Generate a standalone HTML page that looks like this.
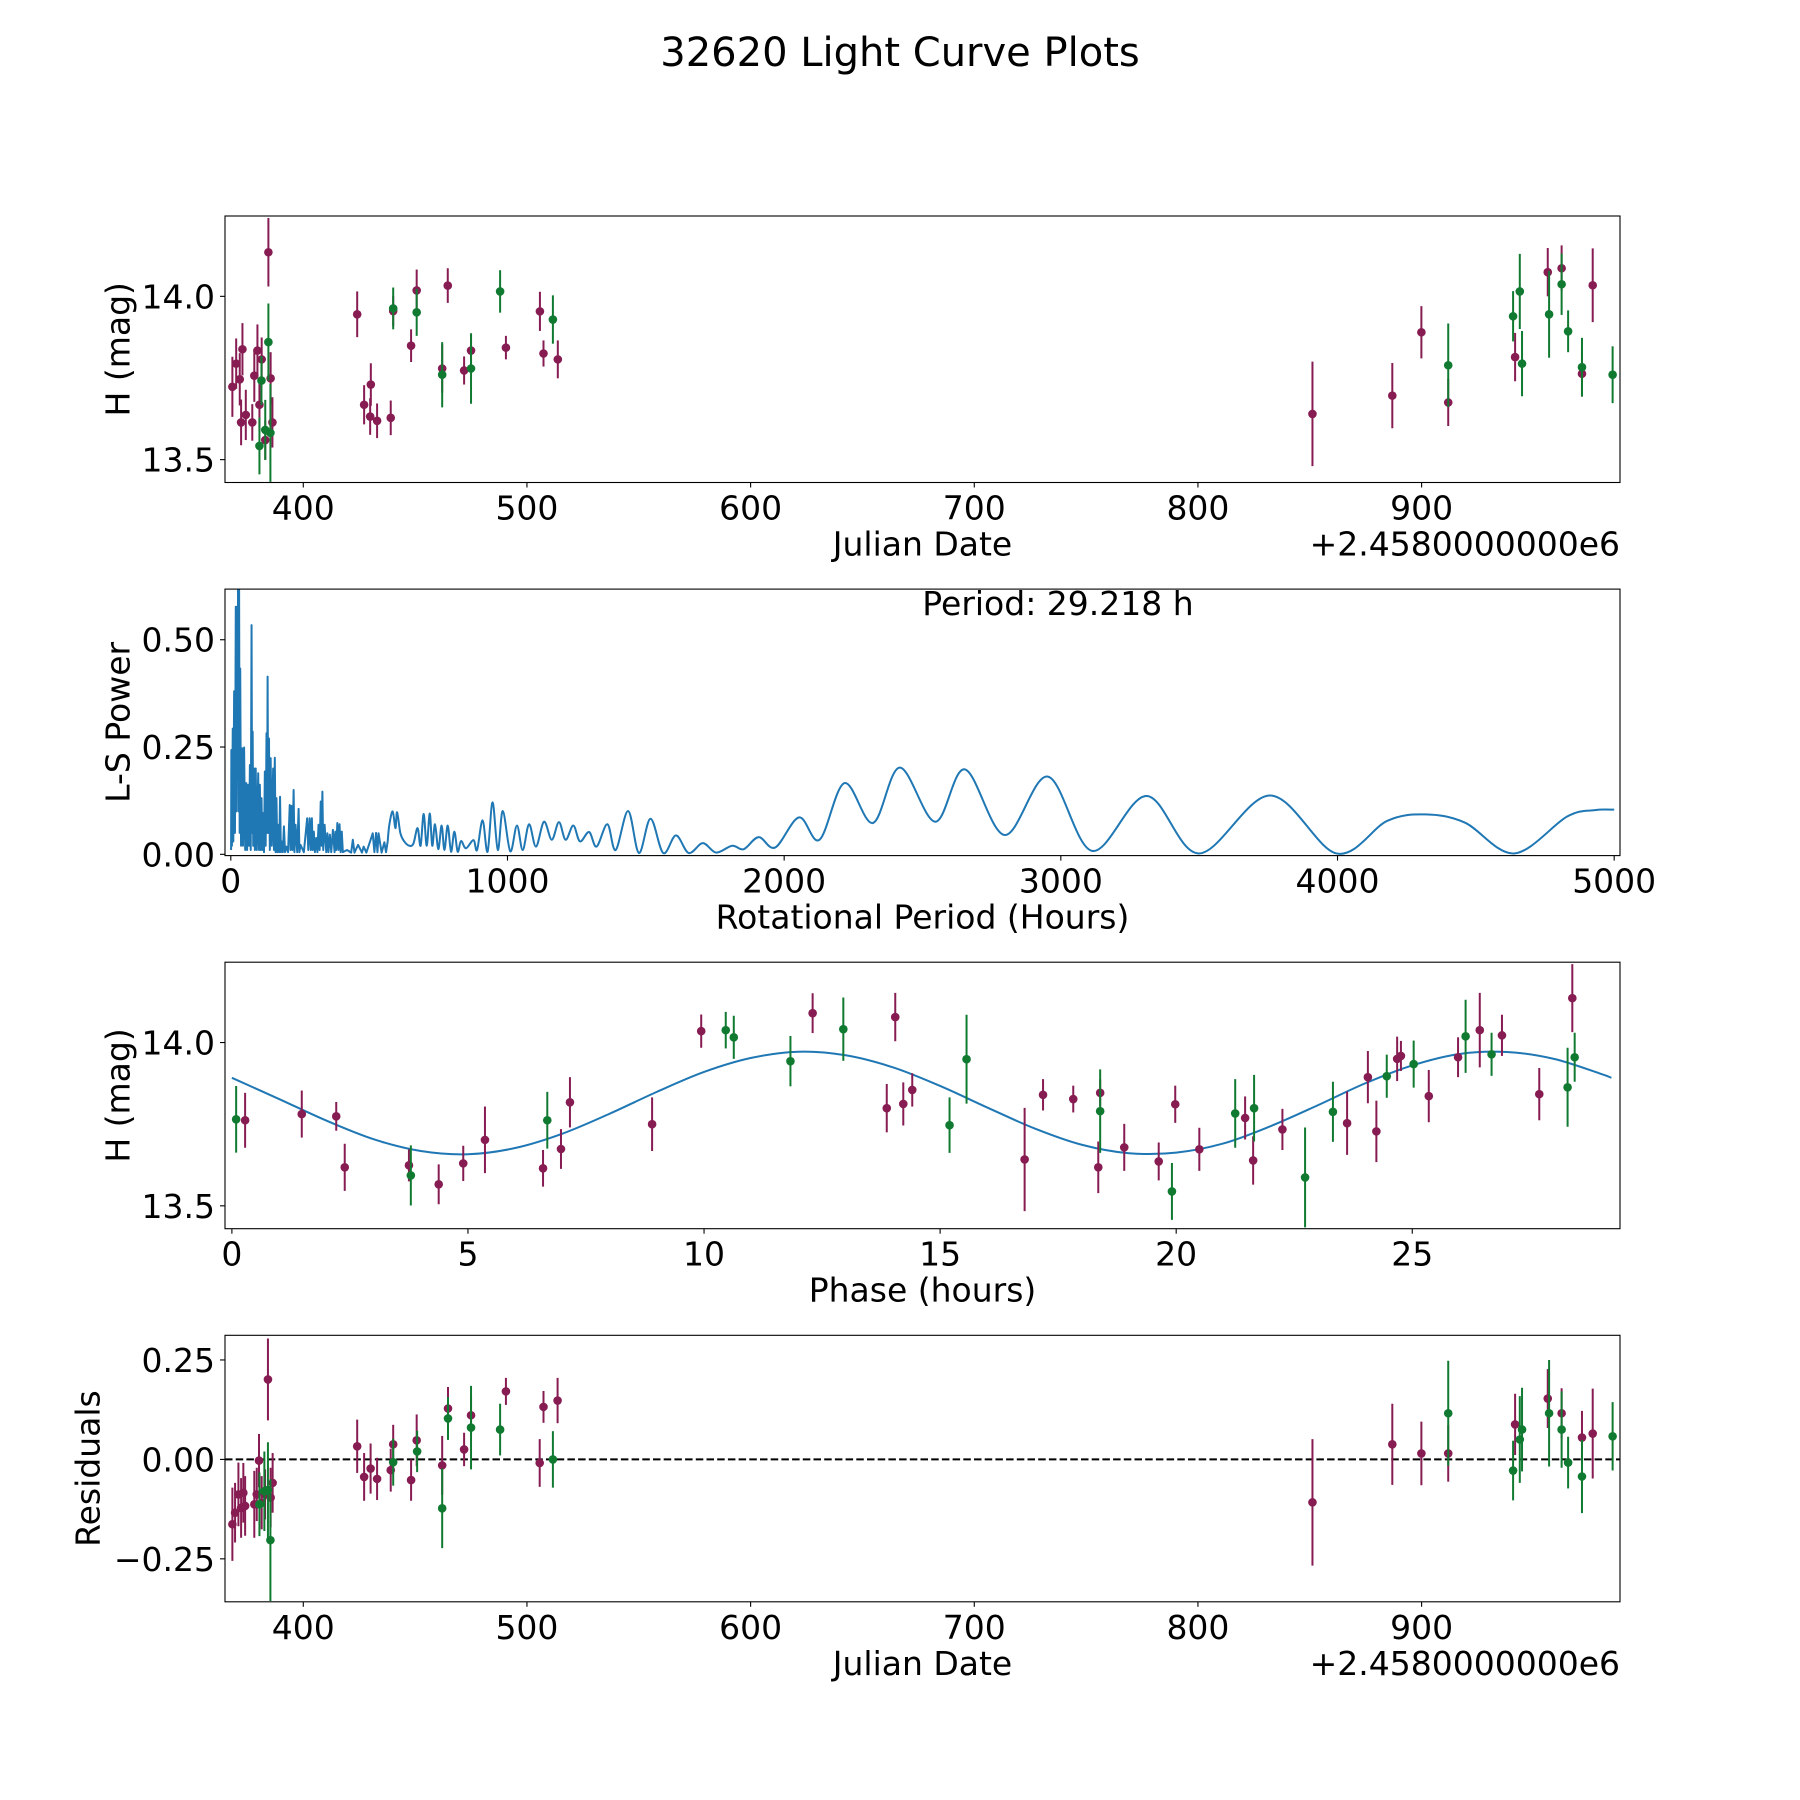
<!DOCTYPE html>
<html>
<head>
<meta charset="utf-8">
<style>
  html,body{margin:0;padding:0;background:#fff;}
  svg{display:block;font-family:"DejaVu Sans","Liberation Sans",sans-serif;}
  .tick{font-size:33px;fill:#000;}
  .lab{font-size:33px;fill:#000;}
</style>
</head>
<body>
<svg id="fig" width="1800" height="1800" viewBox="0 0 1800 1800" xmlns="http://www.w3.org/2000/svg">
  <rect x="0" y="0" width="1800" height="1800" fill="#fff"/>
  <text x="900" y="66" text-anchor="middle" style="font-size:40px">32620 Light Curve Plots</text>
</svg>
<script>
// ---------- Panel 1: light curve vs Julian Date ----------
const lcMagDate = [368.3,370.0,371.6,372.8,372.2,374.3,377.2,378.1,379.5,381.4,380.4,383.0,384.4,385.4,386.2,424.1,427.2,430.2,429.9,433.0,439.1,440.2,448.2,450.7,462.1,464.6,471.9,475.0,490.6,505.8,507.4,513.8,851.2,886.9,899.9,911.9,941.8,956.4,962.6,971.7,976.5];
const lcMagH    = [13.723,13.794,13.746,13.838,13.614,13.637,13.614,13.757,13.834,13.807,13.668,13.560,14.135,13.749,13.614,13.945,13.668,13.730,13.632,13.619,13.628,13.955,13.849,14.018,13.779,14.033,13.773,13.834,13.843,13.954,13.825,13.807,13.640,13.696,13.890,13.675,13.814,14.074,14.086,13.763,14.034];
const lcMagErr  = [0.092,0.077,0.080,0.080,0.070,0.077,0.056,0.080,0.080,0.067,0.080,0.060,0.105,0.080,0.077,0.070,0.060,0.065,0.056,0.053,0.053,0.046,0.050,0.064,0.074,0.053,0.043,0.050,0.036,0.060,0.040,0.058,0.160,0.100,0.080,0.072,0.074,0.074,0.070,0.070,0.113];
const lcGrnDate = [380.4,381.3,383.0,384.4,385.3,440.2,450.7,462.1,475.0,488.0,511.6,911.9,940.9,943.9,944.9,957.0,962.6,965.5,971.7,985.4];
const lcGrnH    = [13.542,13.742,13.591,13.860,13.582,13.963,13.951,13.760,13.779,14.015,13.929,13.789,13.939,14.015,13.794,13.945,14.037,13.893,13.783,13.760];
const lcGrnErr  = [0.087,0.075,0.092,0.118,0.150,0.064,0.072,0.100,0.108,0.065,0.074,0.128,0.077,0.115,0.100,0.133,0.094,0.064,0.090,0.087];
const dateTicks = [400,500,600,700,800,900];
const magTicks  = [13.5,14.0];
const magTickLabels = ["13.5","14.0"];

// ---------- Panel 2: Lomb-Scargle periodogram ----------
const lsDensePeriod = [1,2,4,7,9,12,15,18,20,23,25,26,28,30,32,34,37,41,44,48,52,56,59,63,66,69,72,75,77,79,81,84,87,90,94,99,102,105,108,111,114,117,120,123,126,129,131,133,135,138,141,144,148,153,156,159,162,165,168,171,175,178,181,185,188,192,196,201,207,213,216,219,223,227,230,234,240,245,248,252,264,276,280,285,289,293,296,300,304,309,313,317,321,325,328,331,334,339,345,349,353,358,363,369,375,378,381,385,389,393,397,401,405,420,435,441,447,460,474,480,490,513,519,525,530,534,545,555,561,567];
const lsDensePower = [0.01,.243,.02,.293,.03,.38,.05,.577,.1,.577,.2,.616,.1,.616,.05,.433,.02,.247,.02,.249,.01,.166,.01,.162,.02,.208,.01,.534,.05,.286,.02,.2,.01,.2,.01,.189,.01,.162,.01,.131,.01,.096,.005,.193,.02,.282,.05,.414,.05,.27,.01,.224,.02,.2,.01,.225,.005,.131,.005,.069,.005,.134,.005,.03,.005,.065,.005,.018,.005,.115,.01,.113,.01,.15,.005,.069,.005,.106,.005,.022,.005,.084,.01,.084,.01,.084,.01,.053,.005,.038,.005,.069,.01,.123,.02,.146,.01,.069,.005,.049,.005,.046,.005,.057,.005,.053,.01,.073,.01,.07,.005,.053,.005,.01,.004,.034,.004,.022,.004,.018,.004,.049,.005,.05,.005,.049,.004,.028,.005,.03];
const lsSmoothPeriod = [573,585,595,601,613,627,645,660,675,686,697,708,719,728,738,750,762,772,784,796,808,820,832,850,877,890,910,928,946,965,983,1010,1034,1055,1078,1103,1132,1160,1186,1210,1238,1262,1295,1322,1361,1391,1436,1475,1517,1563,1609,1655,1706,1754,1812,1854,1908,1968,2054,2128,2218,2321,2418,2546,2653,2797,2953,3113,3310,3499,3756,3996,4180,4317,4460,4638,4830,4930,5000];
const lsSmoothPower  = [.069,.1,.061,.098,.049,.03,.02,.025,.061,.02,.094,.02,.095,.02,.07,.012,.067,.01,.067,.006,.053,.006,.031,.014,.033,.01,.079,.006,.121,.01,.101,.007,.067,.01,.07,.018,.076,.034,.075,.034,.067,.03,.052,.018,.07,.01,.101,.003,.083,.003,.044,.003,.026,.004,.02,.012,.04,.016,.086,.034,.166,.073,.202,.076,.198,.045,.181,.008,.136,.002,.137,.002,.078,.093,.074,.002,.088,.103,.104];
const periodTicks = [0,1000,2000,3000,4000,5000];
const powerTicks = [0,0.25,0.5];
const powerTickLabels = ["0.00","0.25","0.50"];

// ---------- Panel 3: phased light curve ----------
const phMagPhase = [0.28,1.48,2.21,2.39,3.75,4.38,4.90,5.36,6.59,6.97,7.16,8.90,9.94,12.30,13.87,14.05,14.22,14.41,16.79,17.18,17.82,18.39,18.35,18.90,19.63,19.98,20.49,21.46,21.63,22.25,23.62,24.06,24.24,24.68,24.76,25.35,25.97,26.43,26.90,27.69,28.39];
const phMagH     = [13.762,13.781,13.774,13.618,13.624,13.566,13.630,13.702,13.615,13.674,13.817,13.750,14.035,14.090,13.799,14.078,13.812,13.855,13.642,13.840,13.827,13.846,13.618,13.679,13.636,13.811,13.673,13.769,13.639,13.734,13.753,13.894,13.728,13.950,13.959,13.836,13.955,14.038,14.022,13.842,14.136];
const phMagErr   = [0.084,0.072,0.044,0.072,0.049,0.061,0.054,0.102,0.056,0.061,0.077,0.082,0.051,0.061,0.074,0.074,0.066,0.051,0.158,0.048,0.041,0.041,0.079,0.072,0.058,0.057,0.066,0.066,0.074,0.063,0.097,0.080,0.094,0.068,0.046,0.080,0.061,0.114,0.063,0.080,0.104];
const phGrnPhase = [0.09,3.79,6.68,10.46,10.63,11.83,12.95,15.20,15.56,18.39,19.91,21.25,21.65,22.73,23.32,24.46,25.03,26.13,26.68,28.29,28.44];
const phGrnH     = [13.765,13.593,13.762,14.038,14.016,13.943,14.041,13.747,13.949,13.790,13.544,13.783,13.799,13.587,13.788,13.897,13.934,14.019,13.964,13.863,13.955];
const phGrnErr   = [0.102,0.092,0.087,0.056,0.066,0.077,0.097,0.085,0.136,0.128,0.087,0.105,0.102,0.153,0.092,0.066,0.072,0.112,0.066,0.121,0.075];
const fitPhase = [0,1,2,3,4,5,6,7,8,9,10,11,12,13,14,15,16,17,18,19,20,21,22,23,24,25,26,27,28,29,29.218];
const fitMag   = [13.892,13.827,13.761,13.704,13.668,13.658,13.677,13.721,13.782,13.849,13.910,13.953,13.972,13.961,13.924,13.867,13.801,13.737,13.687,13.661,13.663,13.691,13.744,13.808,13.875,13.930,13.965,13.971,13.950,13.904,13.892];
const phaseTicks = [0,5,10,15,20,25];

// ---------- Panel 4: residuals ----------
const resMagDate = [368.3,369.5,371.0,372.2,373.2,374.0,378.1,379.2,380.2,381.4,382.9,384.2,385.4,386.3,424.1,427.2,430.1,433.0,439.1,440.2,448.2,450.7,462.1,464.7,471.9,475.0,490.6,505.7,507.4,513.7,851.2,886.9,899.9,911.9,941.8,956.4,962.6,971.7,976.5];
const resMagVal  = [-0.163,-0.134,-0.088,-0.122,-0.084,-0.117,-0.113,-0.088,-0.003,-0.109,-0.088,0.201,-0.096,-0.059,0.033,-0.044,-0.023,-0.049,-0.027,0.038,-0.052,0.048,-0.015,0.128,0.025,0.111,0.171,-0.009,0.132,0.148,-0.108,0.038,0.015,0.015,0.088,0.153,0.116,0.055,0.065];
const resMagErr  = [0.092,0.075,0.080,0.075,0.075,0.075,0.084,0.067,0.067,0.067,0.063,0.103,0.075,0.075,0.067,0.060,0.063,0.053,0.054,0.049,0.052,0.065,0.074,0.054,0.042,0.048,0.034,0.060,0.040,0.057,0.159,0.102,0.080,0.071,0.077,0.074,0.063,0.067,0.113];
const resGrnDate = [380.4,382.6,384.2,385.3,440.2,450.9,462.1,464.7,475.0,488.0,511.6,911.9,940.9,943.9,944.9,957.0,962.6,965.5,971.7,985.4];
const resGrnVal  = [-0.113,-0.080,-0.077,-0.203,-0.007,0.020,-0.123,0.103,0.080,0.075,0.000,0.116,-0.028,0.050,0.075,0.116,0.075,-0.008,-0.043,0.058];
const resGrnErr  = [0.080,0.100,0.120,0.153,0.059,0.052,0.100,0.054,0.105,0.065,0.071,0.132,0.075,0.109,0.105,0.134,0.096,0.065,0.092,0.086];
const resTicks = [-0.25,0,0.25];
const resTickLabels = ["\u22120.25","0.00","0.25"];

// ---------- drawing ----------
const NS = "http://www.w3.org/2000/svg";
const svg = document.getElementById('fig');
const MAG = "#871c52", GRN = "#117a31", BLUE = "#1f77b4";
const L = 225, R = 1620, H = 266.5;

function mk(tag, attrs, parent) {
  const e = document.createElementNS(NS, tag);
  for (const k in attrs) e.setAttribute(k, attrs[k]);
  (parent || svg).appendChild(e);
  return e;
}
function axis(top, xmin, xmax, ymin, ymax) {
  return {top: top, bot: top + H,
    x: v => L + (v - xmin) / (xmax - xmin) * (R - L),
    y: v => top + H - (v - ymin) / (ymax - ymin) * H};
}
function clip(id, ax) {
  const cp = mk('clipPath', {id: id});
  mk('rect', {x: L, y: ax.top, width: R - L, height: H}, cp);
}
function frame(ax, name) {
  const r = mk('rect', {x: L, y: ax.top, width: R - L, height: H, fill: 'none', stroke: '#000', 'stroke-width': 1.1});
  
  
}
function xticks(ax, vals, labels, name) {
  vals.forEach((v, i) => {
    const px = ax.x(v);
    const t = mk('line', {x1: px, x2: px, y1: ax.bot, y2: ax.bot + 5, stroke: '#000', 'stroke-width': 1.1});
    
    
    const tx = mk('text', {x: px, y: ax.bot + 37, 'text-anchor': 'middle', class: 'tick'});
    tx.textContent = labels[i];
    
    
  });
}
function yticks(ax, vals, labels, name) {
  vals.forEach((v, i) => {
    const py = ax.y(v);
    const t = mk('line', {x1: L - 5, x2: L, y1: py, y2: py, stroke: '#000', 'stroke-width': 1.1});
    
    
    const tx = mk('text', {x: L - 10, y: py + 12, 'text-anchor': 'end', class: 'tick'});
    tx.textContent = labels[i];
    
    
  });
}
function xlabel(ax, text, name) {
  const t = mk('text', {x: (L + R) / 2, y: ax.bot + 73, 'text-anchor': 'middle', class: 'lab'});
  t.textContent = text;
  
  
}
function ylabel(ax, cx, text, name) {
  const cy = ax.top + H / 2;
  const t = mk('text', {x: cx, y: cy, 'text-anchor': 'middle', 'dominant-baseline': 'central', class: 'lab', transform: 'rotate(-90 ' + cx + ' ' + cy + ')'});
  t.textContent = text;
  
  
}
function offsetText(ax) {
  const t = mk('text', {x: R, y: ax.bot + 73, 'text-anchor': 'end', class: 'lab'});
  t.textContent = '+2.4580000000e6';
  
  
}
function errSeries(ax, xs, ys, es, color, name, clipId) {
  const g = mk('g', {'clip-path': 'url(#' + clipId + ')'});
  
  
  xs.forEach((xv, i) => {
    const px = ax.x(xv);
    const bar = mk('line', {x1: px, x2: px, y1: ax.y(ys[i] - es[i]), y2: ax.y(ys[i] + es[i]), stroke: color, 'stroke-width': 2}, g);
    
    
    const c = mk('circle', {cx: px, cy: ax.y(ys[i]), r: 4.3, fill: color}, g);
    
    
  });
}
function smoothPath(pts) {
  let d = 'M' + pts[0][0].toFixed(2) + ',' + pts[0][1].toFixed(2);
  for (let i = 0; i < pts.length - 1; i++) {
    const p0 = pts[Math.max(0, i - 1)], p1 = pts[i], p2 = pts[i + 1], p3 = pts[Math.min(pts.length - 1, i + 2)];
    const c1x = p1[0] + (p2[0] - p0[0]) / 6, c1y = p1[1] + (p2[1] - p0[1]) / 6;
    const c2x = p2[0] - (p3[0] - p1[0]) / 6, c2y = p2[1] - (p3[1] - p1[1]) / 6;
    d += ' C' + c1x.toFixed(2) + ',' + c1y.toFixed(2) + ' ' + c2x.toFixed(2) + ',' + c2y.toFixed(2) + ' ' + p2[0].toFixed(2) + ',' + p2[1].toFixed(2);
  }
  return d;
}

// Panel 1
const ax1 = axis(216, 365.0, 988.7, 13.430, 14.246);
clip('c1', ax1);
errSeries(ax1, lcMagDate, lcMagH, lcMagErr, MAG, 'lightcurve-filter-1', 'c1');
errSeries(ax1, lcGrnDate, lcGrnH, lcGrnErr, GRN, 'lightcurve-filter-2', 'c1');
frame(ax1, 'lightcurve-axes');
xticks(ax1, dateTicks, dateTicks.map(String), 'lightcurve');
yticks(ax1, magTicks, magTickLabels, 'lightcurve');
xlabel(ax1, 'Julian Date', 'lightcurve-x-axis-title');
offsetText(ax1);
ylabel(ax1, 118, 'H (mag)', 'lightcurve-y-axis-title');

// Panel 2
const ax2 = axis(589.1, -21, 5021, -0.003, 0.618);
clip('c2', ax2);
const g2 = mk('g', {'clip-path': 'url(#c2)'});


let dd = '';
lsDensePeriod.forEach((p, i) => { dd += (i ? 'L' : 'M') + ax2.x(p).toFixed(2) + ',' + ax2.y(lsDensePower[i]).toFixed(2) + ' '; });
const dense = mk('path', {d: dd, fill: 'none', stroke: BLUE, 'stroke-width': 2, 'stroke-linejoin': 'round'}, g2);


const spts = [[ax2.x(lsDensePeriod[lsDensePeriod.length - 1]), ax2.y(lsDensePower[lsDensePower.length - 1])]];
lsSmoothPeriod.forEach((p, i) => spts.push([ax2.x(p), ax2.y(lsSmoothPower[i])]));
const sm = mk('path', {d: smoothPath(spts), fill: 'none', stroke: BLUE, 'stroke-width': 2}, g2);


frame(ax2, 'periodogram-axes');
xticks(ax2, periodTicks, periodTicks.map(String), 'periodogram');
yticks(ax2, powerTicks, powerTickLabels, 'periodogram');
xlabel(ax2, 'Rotational Period (Hours)', 'periodogram-x-axis-title');
ylabel(ax2, 118, 'L-S Power', 'periodogram-y-axis-title');
const pt = mk('text', {x: 1058, y: 615, 'text-anchor': 'middle', class: 'lab'});
pt.textContent = 'Period: 29.218 h';



// Panel 3
const ax3 = axis(962.2, -0.146, 29.4, 13.430, 14.246);
clip('c3', ax3);
const fpts = fitPhase.map((p, i) => [ax3.x(p), ax3.y(fitMag[i])]);
const fit = mk('path', {d: smoothPath(fpts), fill: 'none', stroke: BLUE, 'stroke-width': 2, 'clip-path': 'url(#c3)'});


errSeries(ax3, phMagPhase, phMagH, phMagErr, MAG, 'phase-filter-1', 'c3');
errSeries(ax3, phGrnPhase, phGrnH, phGrnErr, GRN, 'phase-filter-2', 'c3');
frame(ax3, 'phase-axes');
xticks(ax3, phaseTicks, phaseTicks.map(String), 'phase');
yticks(ax3, magTicks, magTickLabels, 'phase');
xlabel(ax3, 'Phase (hours)', 'phase-x-axis-title');
ylabel(ax3, 118, 'H (mag)', 'phase-y-axis-title');

// Panel 4
const ax4 = axis(1335.3, 365.0, 988.7, -0.358, 0.312);
clip('c4', ax4);
const zl = mk('line', {x1: L, x2: R, y1: ax4.y(0), y2: ax4.y(0), stroke: '#000', 'stroke-width': 2, 'stroke-dasharray': '7.5,3.2'});


errSeries(ax4, resMagDate, resMagVal, resMagErr, MAG, 'residual-filter-1', 'c4');
errSeries(ax4, resGrnDate, resGrnVal, resGrnErr, GRN, 'residual-filter-2', 'c4');
frame(ax4, 'residual-axes');
xticks(ax4, dateTicks, dateTicks.map(String), 'residual');
yticks(ax4, resTicks, resTickLabels, 'residual');
xlabel(ax4, 'Julian Date', 'residual-x-axis-title');
offsetText(ax4);
ylabel(ax4, 88, 'Residuals', 'residual-y-axis-title');
</script>
</body>
</html>
